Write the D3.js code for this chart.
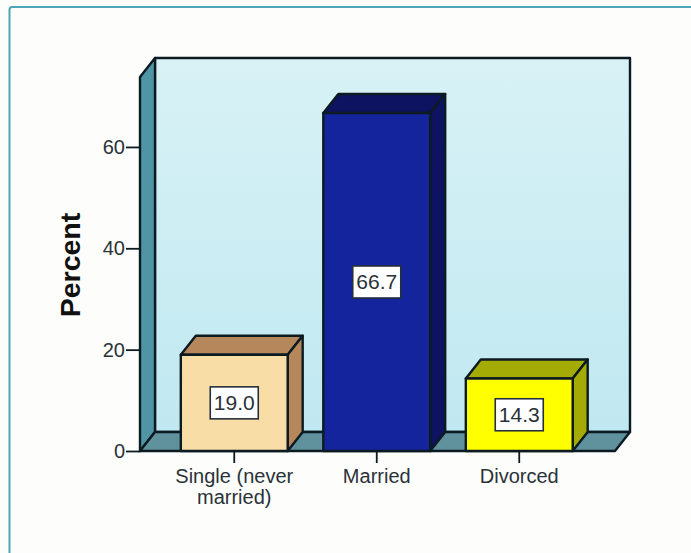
<!DOCTYPE html>
<html>
<head>
<meta charset="utf-8">
<title>Marital status</title>
<script src="https://cdnjs.cloudflare.com/ajax/libs/d3/7.8.5/d3.min.js"></script>
<style>
html, body { margin: 0; padding: 0; background: #fdfdfc; }
svg { display: block; }
text { font-family: "Liberation Sans", Arial, sans-serif; fill: #2a3238; }
</style>
</head>
<body>
<script>
var categories = ["Single (never married)", "Married", "Divorced"];
var categoryLines = [["Single (never", "married)"], ["Married"], ["Divorced"]];
var percents = [19.0, 66.7, 14.3];
var yTicks = [0, 20, 40, 60];
var yMax = 73.8;

var frontColors = ["#f8dda6", "#13249c", "#ffff00"];
var shadeColors = ["#b6875a", "#0d1360", "#a4ab05"];

var width = 691, height = 553;
var depthX = 15, depthY = 19;
var lineColor = "#0c1a22";

var svg = d3.select("body").append("svg")
    .attr("width", width)
    .attr("height", height);

var defs = svg.append("defs");
var wallGrad = defs.append("linearGradient")
    .attr("id", "wall")
    .attr("x1", 0).attr("y1", 0).attr("x2", 0).attr("y2", 1);
wallGrad.append("stop").attr("offset", "0%").attr("stop-color", "#d8f2f5");
wallGrad.append("stop").attr("offset", "100%").attr("stop-color", "#c0e8f1");

// outer frame: top and left edges only
svg.append("path")
    .attr("d", "M691,7H12Q9.5,7 9.5,10V553")
    .attr("fill", "none")
    .attr("stroke", "#4fa5b8")
    .attr("stroke-width", 2);

var x = d3.scaleBand()
    .domain(categories)
    .range([163, 590.5])
    .paddingInner(0.25)
    .paddingOuter(0.125);

var y = d3.scaleLinear()
    .domain([0, yMax])
    .range([451, 77]);

var plotLeft = 140, plotRight = 615;
var y0 = y(0), yTop = y(yMax);

function poly(points, fill) {
    return svg.append("polygon")
        .attr("points", points.map(function(p){ return p.join(","); }).join(" "))
        .attr("fill", fill)
        .attr("stroke", lineColor)
        .attr("stroke-width", 2.4)
        .attr("stroke-linejoin", "round");
}

// back wall, side wall and floor
poly([[plotLeft + depthX, yTop - depthY], [plotRight + depthX, yTop - depthY],
      [plotRight + depthX, y0 - depthY], [plotLeft + depthX, y0 - depthY]], "url(#wall)");
poly([[plotLeft, yTop], [plotLeft + depthX, yTop - depthY],
      [plotLeft + depthX, y0 - depthY], [plotLeft, y0]], "#4f95a6");
poly([[plotLeft, y0], [plotLeft + depthX, y0 - depthY],
      [plotRight + depthX, y0 - depthY], [plotRight, y0]], "#60929d");

// axes
var yAxis = d3.axisLeft(y)
    .tickValues(yTicks)
    .tickSize(14)
    .tickPadding(1)
    .tickFormat(d3.format("d"));

var gy = svg.append("g")
    .attr("transform", "translate(" + plotLeft + ",0)")
    .call(yAxis);
gy.select(".domain").remove();
gy.selectAll("line").attr("stroke", lineColor).attr("stroke-width", 1.8);
gy.selectAll("text").style("font-size", "20px");

var xAxis = d3.axisBottom(x)
    .tickSize(12)
    .tickFormat("");

var gx = svg.append("g")
    .attr("transform", "translate(0," + y0 + ")")
    .call(xAxis);
gx.select(".domain").remove();
gx.selectAll("line").attr("stroke", lineColor).attr("stroke-width", 1.8);

// category labels, wrapped by hand
var labels = svg.selectAll(".cat")
    .data(categories)
  .enter().append("text")
    .attr("class", "cat")
    .attr("text-anchor", "middle")
    .style("font-size", "20px");

labels.selectAll("tspan")
    .data(function(d, i){ return categoryLines[i].map(function(t){ return {cat: d, text: t}; }); })
  .enter().append("tspan")
    .attr("x", function(d){ return x(d.cat) + x.bandwidth() / 2; })
    .attr("y", function(d, i){ return 483 + i * 21; })
    .text(function(d){ return d.text; });

// bars, each one a front face, a top and a right side
categories.forEach(function(c, i){
    var left = x(c), right = left + x.bandwidth();
    var top = y(percents[i]);
    poly([[left, top], [left + depthX, top - depthY],
          [right + depthX, top - depthY], [right, top]], shadeColors[i]);
    poly([[right, top], [right + depthX, top - depthY],
          [right + depthX, y0 - depthY], [right, y0]], shadeColors[i]);
    poly([[left, top], [right, top], [right, y0], [left, y0]], frontColors[i]);

    var cx = (left + right) / 2, cy = (top + y0) / 2;
    svg.append("rect")
        .attr("x", cx - 24)
        .attr("y", cy - 16)
        .attr("width", 48)
        .attr("height", 32)
        .attr("fill", "#ffffff")
        .attr("stroke", "#26303a")
        .attr("stroke-width", 1.6);
    svg.append("text")
        .attr("x", cx)
        .attr("y", cy + 7.5)
        .attr("text-anchor", "middle")
        .style("font-size", "21px")
        .text(d3.format(".1f")(percents[i]));
});

svg.append("text")
    .attr("transform", "translate(80,265) rotate(-90)")
    .attr("text-anchor", "middle")
    .style("font-size", "28.5px")
    .style("font-weight", "bold")
    .style("fill", "#111")
    .text("Percent");
</script>
</body>
</html>
